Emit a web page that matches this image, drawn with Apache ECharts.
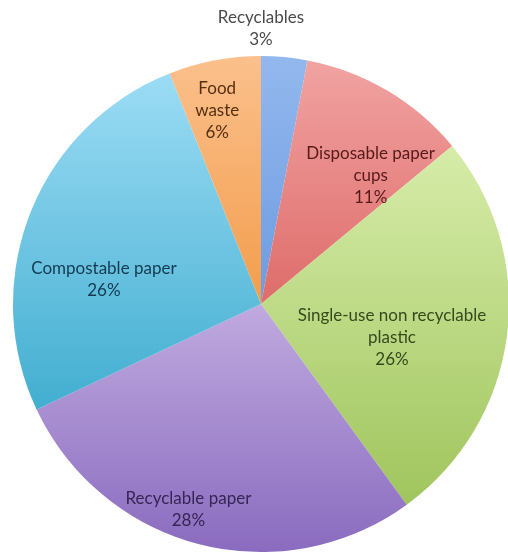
<!DOCTYPE html>
<html>
<head>
<meta charset="utf-8">
<script src="https://cdn.jsdelivr.net/npm/echarts@6/dist/echarts.min.js"></script>
<style>
  html, body { margin: 0; padding: 0; background: #ffffff; }
  #chart { width: 508px; height: 558px; }
</style>
</head>
<body>
<div id="chart"></div>
<script>
// Waste composition, clockwise from 12 o'clock
const categories = [
  'Recyclables',
  'Disposable paper\ncups',
  'Single-use non recyclable\nplastic',
  'Recyclable paper',
  'Compostable paper',
  'Food\nwaste'
];
const shares = [3, 11, 26, 28, 26, 6];

// Fill gradients (top → bottom) and label ink per slice
const topColors    = ['#93b8ee', '#f1a3a2', '#d6eca9', '#c0aadf', '#9cdcf5', '#fbc08c'];
const bottomColors = ['#6d9be0', '#de6c6a', '#a0c55d', '#8a6bbf', '#42aed0', '#f39d4c'];
const labelInk     = ['#4a4a4a', '#551a1a', '#36491c', '#352654', '#123a50', '#543011'];
// Label nudges away from the default mid-radius anchor
const labelNudge   = [[-12, -149], [45, -19], [5, 18], [-41, 83], [-39, 22], [-20, -69]];

const chart = echarts.init(document.getElementById('chart'), null, { renderer: 'canvas' });

const data = categories.map((name, i) => ({
  name: name,
  value: shares[i],
  itemStyle: {
    color: new echarts.graphic.LinearGradient(0, 0, 0, 1, [
      { offset: 0, color: topColors[i] },
      { offset: 1, color: bottomColors[i] }
    ])
  },
  label: {
    color: labelInk[i],
    offset: labelNudge[i]
  }
}));

chart.setOption({
  animation: false,
  backgroundColor: '#ffffff',
  series: [{
    type: 'pie',
    center: [261, 304],
    radius: [0, 248],
    startAngle: 90,
    clockwise: true,
    avoidLabelOverlap: false,
    data: data,
    label: {
      show: true,
      position: 'inside',
      formatter: '{b}\n{d}%',
      fontFamily: 'Lato',
      fontSize: 17,
      lineHeight: 22,
      align: 'center'
    },
    labelLine: { show: false },
    itemStyle: { borderWidth: 0 },
    emphasis: { disabled: true }
  }]
});
</script>
</body>
</html>
